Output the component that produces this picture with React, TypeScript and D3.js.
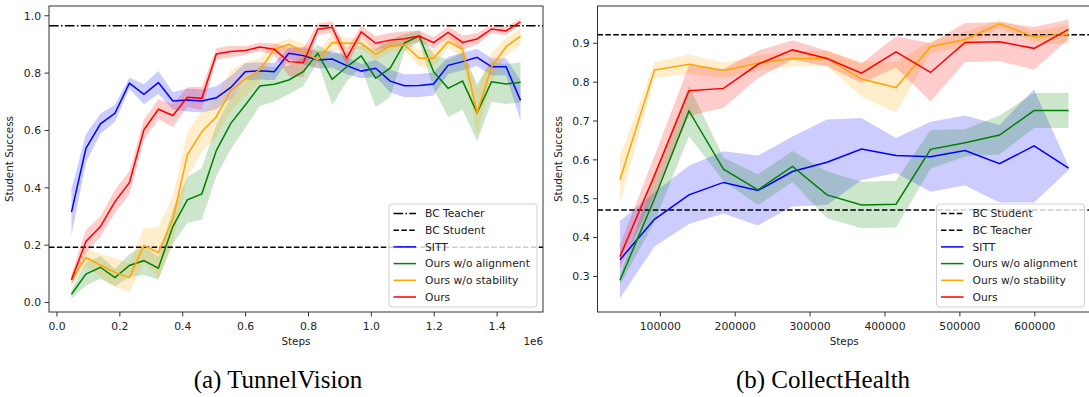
import React from 'react';
import * as d3 from 'd3';

// training steps at which the evaluations were logged
const TV_STEPS = [
  46080, 92160, 138240, 184320, 230400, 276480, 322560, 368640, 414720, 460800, 506880,
  552960, 599040, 645120, 691200, 737280, 783360, 829440, 875520, 921600, 967680, 1013760,
  1059840, 1105920, 1152000, 1198080, 1244160, 1290240, 1336320, 1382400, 1428480, 1474560,
];
const CH_STEPS = [
  46080, 92160, 138240, 184320, 230400, 276480, 322560, 368640, 414720, 460800, 506880,
  552960, 599040, 645120,
];

// (a) TunnelVision
const TV_SITT = [0.315, 0.538, 0.623, 0.66, 0.765, 0.726, 0.767, 0.703, 0.706, 0.703, 0.714, 0.75, 0.805, 0.808, 0.805, 0.869, 0.861, 0.846, 0.849, 0.826, 0.807, 0.817, 0.772, 0.756, 0.757, 0.762, 0.827, 0.84, 0.855, 0.822, 0.822, 0.705];
const TV_SITT_SD = [0.08, 0.05, 0.035, 0.03, 0.02, 0.035, 0.04, 0.03, 0.04, 0.04, 0.04, 0.04, 0.03, 0.03, 0.03, 0.02, 0.03, 0.03, 0.03, 0.03, 0.025, 0.03, 0.04, 0.04, 0.04, 0.04, 0.03, 0.03, 0.03, 0.03, 0.03, 0.07];
const TV_NOALIGN = [0.029, 0.099, 0.123, 0.087, 0.129, 0.146, 0.12, 0.265, 0.358, 0.379, 0.53, 0.625, 0.689, 0.755, 0.761, 0.776, 0.805, 0.869, 0.778, 0.822, 0.86, 0.782, 0.817, 0.906, 0.929, 0.805, 0.747, 0.772, 0.662, 0.77, 0.762, 0.768];
const TV_NOALIGN_SD = [0.015, 0.04, 0.04, 0.03, 0.04, 0.05, 0.04, 0.06, 0.08, 0.09, 0.09, 0.09, 0.08, 0.07, 0.06, 0.05, 0.05, 0.03, 0.09, 0.05, 0.04, 0.1, 0.1, 0.03, 0.02, 0.06, 0.1, 0.1, 0.1, 0.07, 0.07, 0.07];
const TV_NOSTAB = [0.079, 0.157, 0.13, 0.105, 0.087, 0.199, 0.174, 0.29, 0.515, 0.596, 0.648, 0.739, 0.779, 0.811, 0.883, 0.9, 0.875, 0.846, 0.907, 0.904, 0.904, 0.865, 0.894, 0.898, 0.852, 0.852, 0.91, 0.883, 0.662, 0.822, 0.892, 0.929];
const TV_NOSTAB_SD = [0.02, 0.03, 0.04, 0.05, 0.05, 0.06, 0.09, 0.08, 0.08, 0.07, 0.07, 0.07, 0.06, 0.04, 0.02, 0.02, 0.03, 0.03, 0.03, 0.02, 0.02, 0.02, 0.02, 0.02, 0.03, 0.03, 0.02, 0.03, 0.08, 0.05, 0.03, 0.03];
const TV_OURS = [0.079, 0.213, 0.265, 0.352, 0.418, 0.602, 0.674, 0.652, 0.716, 0.712, 0.867, 0.875, 0.879, 0.891, 0.883, 0.84, 0.836, 0.953, 0.96, 0.852, 0.944, 0.904, 0.915, 0.92, 0.929, 0.906, 0.942, 0.907, 0.919, 0.954, 0.947, 0.979];
const TV_OURS_SD = [0.02, 0.04, 0.035, 0.04, 0.04, 0.035, 0.035, 0.04, 0.035, 0.04, 0.02, 0.02, 0.015, 0.015, 0.02, 0.05, 0.05, 0.02, 0.02, 0.03, 0.02, 0.025, 0.025, 0.025, 0.02, 0.02, 0.02, 0.025, 0.02, 0.015, 0.015, 0.01];
const TV_TEACHER = 0.965;
const TV_STUDENT = 0.193;

// (b) CollectHealth
const CH_SITT = [0.343, 0.447, 0.51, 0.542, 0.521, 0.57, 0.594, 0.628, 0.611, 0.608, 0.624, 0.59, 0.636, 0.579];
const CH_SITT_SD = [0.1, 0.07, 0.075, 0.08, 0.09, 0.09, 0.11, 0.08, 0.045, 0.09, 0.09, 0.1, 0.146, 0.005];
const CH_NOALIGN = [0.29, 0.5, 0.726, 0.576, 0.523, 0.583, 0.51, 0.484, 0.486, 0.627, 0.644, 0.664, 0.727, 0.727];
const CH_NOALIGN_SD = [0.012, 0.06, 0.065, 0.03, 0.04, 0.04, 0.06, 0.06, 0.06, 0.05, 0.035, 0.05, 0.045, 0.045];
const CH_NOSTAB = [0.549, 0.831, 0.846, 0.83, 0.849, 0.861, 0.861, 0.808, 0.786, 0.891, 0.91, 0.95, 0.917, 0.923];
const CH_NOSTAB_SD = [0.06, 0.02, 0.025, 0.02, 0.02, 0.02, 0.02, 0.045, 0.065, 0.015, 0.02, 0.01, 0.015, 0.025];
const CH_OURS = [0.351, 0.56, 0.778, 0.784, 0.846, 0.883, 0.861, 0.823, 0.878, 0.825, 0.902, 0.904, 0.887, 0.936];
const CH_OURS_SD = [0.03, 0.05, 0.065, 0.05, 0.035, 0.025, 0.02, 0.025, 0.04, 0.075, 0.05, 0.05, 0.055, 0.025];
const CH_STUDENT = 0.471;
const CH_TEACHER = 0.922;

const TV_X_TICKS = [0, 200000, 400000, 600000, 800000, 1000000, 1200000, 1400000];
const TV_Y_TICKS = [0, 0.2, 0.4, 0.6, 0.8, 1.0];
const CH_X_TICKS = [100000, 200000, 300000, 400000, 500000, 600000];
const CH_Y_TICKS = [0.3, 0.4, 0.5, 0.6, 0.7, 0.8, 0.9];

const DASHED = '5.5,2.4';
const DASHDOT = '9.6,2.4,1.5,2.4';
const FONT = 'DejaVu Sans, sans-serif';
const TXT = '#222';

type Series = { name: string; color: string; mean: number[]; sd: number[] };
type RefLine = { name: string; value: number; dash: string };

const mkSeries = (m: number[][]): Series[] => [
  { name: 'SITT', color: 'blue', mean: m[0], sd: m[1] },
  { name: 'Ours w/o alignment', color: 'green', mean: m[2], sd: m[3] },
  { name: 'Ours w/o stability', color: 'orange', mean: m[4], sd: m[5] },
  { name: 'Ours', color: 'red', mean: m[6], sd: m[7] },
];

type PanelProps = {
  id: string;
  left: number; right: number; top: number; bottom: number;
  steps: number[];
  series: Series[];
  refs: RefLine[];
  yDomain: [number, number];
  xTicks: number[]; yTicks: number[];
  xFmt: (v: number) => string; yFmt: (v: number) => string;
  offsetText?: string;
  legendX: number; legendY: number;
};

function Panel(p: PanelProps) {
  // matplotlib-style 5% margins on x
  const [lo, hi] = d3.extent(p.steps) as [number, number];
  const pad = (hi - lo) * 0.05;
  const x = d3.scaleLinear().domain([lo - pad, hi + pad]).range([p.left, p.right]);
  const y = d3.scaleLinear().domain(p.yDomain).range([p.bottom, p.top]);

  const line = d3.line<number>().x((_, i) => x(p.steps[i])).y(d => y(d));
  const area = (s: Series) =>
    d3.area<number>()
      .x((_, i) => x(p.steps[i]))
      .y0((d, i) => y(d - s.sd[i]))
      .y1((d, i) => y(d + s.sd[i]))(s.mean) as string;

  const legendItems = [
    ...p.refs.map(r => ({ name: r.name, color: 'black', dash: r.dash })),
    ...p.series.map(s => ({ name: s.name, color: s.color, dash: undefined as string | undefined })),
  ];
  const rowH = 16.7;
  const lw = 148;
  const lh = 103;

  return (
    <g fontFamily={FONT}>
      <defs>
        <clipPath id={p.id}>
          <rect x={p.left} y={p.top} width={p.right - p.left} height={p.bottom - p.top} />
        </clipPath>
      </defs>
      <g clipPath={`url(#${p.id})`}>
        {p.series.map(s => (
          <path key={s.name + 'f'} d={area(s)} fill={s.color} fillOpacity={0.2} stroke="none" />
        ))}
        {p.refs.map(r => (
          <line key={r.name} x1={p.left} x2={p.right} y1={y(r.value)} y2={y(r.value)}
            stroke="black" strokeWidth={1.5} strokeDasharray={r.dash} />
        ))}
        {p.series.map(s => (
          <path key={s.name} d={line(s.mean) as string} fill="none" stroke={s.color} strokeWidth={1.5} />
        ))}
      </g>
      <rect x={p.left} y={p.top} width={p.right - p.left} height={p.bottom - p.top}
        fill="none" stroke="#333" strokeWidth={1} />
      {p.xTicks.map(t => (
        <g key={'x' + t} transform={`translate(${x(t)},${p.bottom})`}>
          <line y2={4.5} stroke="#333" />
          <text y={18} textAnchor="middle" fontSize={10.8} fill={TXT}>{p.xFmt(t)}</text>
        </g>
      ))}
      {p.yTicks.map(t => (
        <g key={'y' + t} transform={`translate(${p.left},${y(t)})`}>
          <line x2={-4.5} stroke="#333" />
          <text x={-8} dy="0.35em" textAnchor="end" fontSize={10.8} fill={TXT}>{p.yFmt(t)}</text>
        </g>
      ))}
      <text x={(p.left + p.right) / 2} y={345}
        textAnchor="middle" fontSize={10.4} fill={TXT}>Steps</text>
      {p.offsetText && (
        <text x={p.right} y={345} textAnchor="end" fontSize={10.4} fill={TXT}>{p.offsetText}</text>
      )}
      <text transform={`translate(${p.left - 36},${(p.top + p.bottom) / 2}) rotate(-90)`}
        textAnchor="middle" fontSize={10.4} fill={TXT}>Student Success</text>

      <g transform={`translate(${p.legendX},${p.legendY})`}>
        <rect width={lw} height={lh} rx={3} fill="white" fillOpacity={0.8} stroke="#d0d0d0" strokeWidth={1} />
        {legendItems.map((it, i) => (
          <g key={it.name} transform={`translate(0,${9.5 + i * rowH})`}>
            <line x1={4.5} x2={27} stroke={it.color} strokeWidth={1.5} strokeDasharray={it.dash} />
            <text x={36} dy="0.35em" fontSize={10.7} fill={TXT}>{it.name}</text>
          </g>
        ))}
      </g>
    </g>
  );
}

export default function App() {
  const tvSeries = mkSeries([TV_SITT, TV_SITT_SD, TV_NOALIGN, TV_NOALIGN_SD, TV_NOSTAB, TV_NOSTAB_SD, TV_OURS, TV_OURS_SD]);
  const chSeries = mkSeries([CH_SITT, CH_SITT_SD, CH_NOALIGN, CH_NOALIGN_SD, CH_NOSTAB, CH_NOSTAB_SD, CH_OURS, CH_OURS_SD]);
  return (
    <div style={{ position: 'absolute', left: 0, top: 0 }}>
      <svg width={1089} height={397} style={{ display: 'block', background: 'white' }}>
        <Panel
          id="clip-tv"
          left={49} right={543} top={6} bottom={312}
          steps={TV_STEPS}
          series={tvSeries}
          refs={[
            { name: 'BC Teacher', value: TV_TEACHER, dash: DASHDOT },
            { name: 'BC Student', value: TV_STUDENT, dash: DASHED },
          ]}
          yDomain={[-0.033, 1.034]}
          xTicks={TV_X_TICKS} yTicks={TV_Y_TICKS}
          xFmt={v => d3.format('.1f')(v / 1e6)} yFmt={d3.format('.1f')}
          offsetText="1e6"
          legendX={389} legendY={204}
        />
        <Panel
          id="clip-ch"
          left={597.5} right={1091} top={6} bottom={312}
          steps={CH_STEPS}
          series={chSeries}
          refs={[
            { name: 'BC Student', value: CH_STUDENT, dash: DASHED },
            { name: 'BC Teacher', value: CH_TEACHER, dash: DASHED },
          ]}
          yDomain={[0.2085, 0.996]}
          xTicks={CH_X_TICKS} yTicks={CH_Y_TICKS}
          xFmt={d3.format('d')} yFmt={d3.format('.1f')}
          legendX={936.5} legendY={204}
        />
        <text x={278} y={388} textAnchor="middle" fontFamily="Liberation Serif, serif" fontSize={25} fill="black">(a) TunnelVision</text>
        <text x={823} y={388} textAnchor="middle" fontFamily="Liberation Serif, serif" fontSize={25} fill="black">(b) CollectHealth</text>
      </svg>
    </div>
  );
}
